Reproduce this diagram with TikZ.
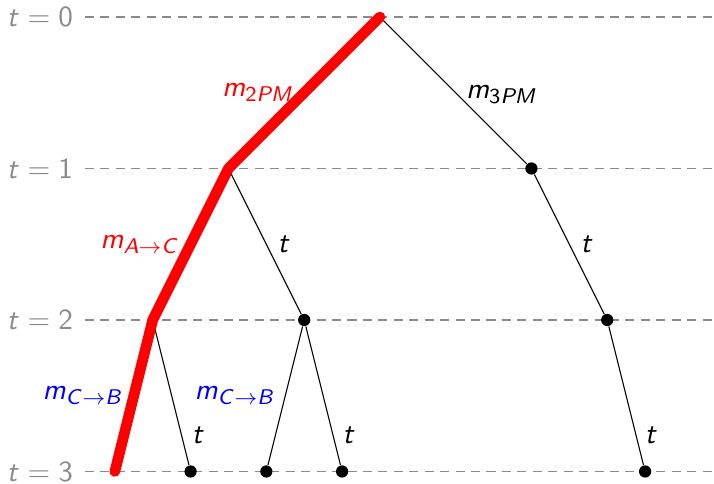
\documentclass[tikz,border=0pt]{standalone}
\usetikzlibrary{positioning}
\DeclareMathAlphabet{\mathsfit}{OT1}{cmss}{m}{sl}
\DeclareMathAlphabet{\mathsfup}{OT1}{cmss}{m}{n}
\newcommand{\vt}{\mathsfit{t}}
\newcommand{\vm}{\mathsfit{m}}
\definecolor{TLGray}{HTML}{8A8A8A}
\tikzset{
  levelline/.style={draw=TLGray,dash pattern=on 3.4pt off 2.4pt,line width=0.55pt},
  levellabel/.style={text=TLGray,inner sep=0pt,font=\fontsize{11}{13}\selectfont},
  vertex/.style={circle,fill=black,inner sep=0pt,minimum size=4.6pt},
  branch/.style={black,line width=0.4pt},
  chosen/.style={red,line width=4pt,line cap=round,line join=round},
  lbl/.style={inner sep=0pt,font=\fontsize{11}{13}\selectfont},
  lblred/.style={lbl,text=red},
  lblblue/.style={lbl,text=blue},
}
\begin{document}
\begin{tikzpicture}[x=2cm,y=-2cm]
  \useasboundingbox (-2.508,-0.112) rectangle (2.205,3.079);
  % time levels
  \foreach \t in {0,...,3}{
    \node[levellabel] (lev\t) at (-2.244,\t) {$\vt=\mathsfup{\t}$};
    \draw[levelline] (-1.947,\t) -- (2.205,\t);
  }

  % tree
  \coordinate (root) at (0,0);
  \coordinate (a1) at (-1,1);
  \node[vertex] (b1) at (1,1) {};
  \coordinate (a2) at (-1.5,2);
  \node[vertex] (b2) at (-0.5,2) {};
  \node[vertex] (c2) at (1.5,2) {};
  \coordinate (a3) at (-1.75,3);
  \node[vertex] (b3) at (-1.25,3) {};
  \node[vertex] (c3) at (-0.75,3) {};
  \node[vertex] (d3) at (-0.25,3) {};
  \node[vertex] (e3) at (1.75,3) {};

  \draw[branch] (root) -- (b1) -- (c2) -- (e3);
  \draw[branch] (a1) -- (b2) -- (c3);
  \draw[branch] (b2) -- (d3);
  \draw[branch] (a2) -- (b3);
  \draw[chosen] (root) -- (a1) -- (a2) -- (a3);

  % edge labels
  \node[lblred] (l2pm) at (-0.805,0.5) {$\vm_{\mathsfup{2}\mathsfit{PM}}$};
  \node[lbl] (l3pm) at (0.805,0.51) {$\vm_{\mathsfup{3}\mathsfit{PM}}$};
  \node[lblred] (lac) at (-1.584,1.5) {$\vm_{\mathsfit{A}\to\mathsfit{C}}$};
  \node[lbl] (ta) at (-0.634,1.5) {$\vt$};
  \node[lbl] (tb) at (1.366,1.5) {$\vt$};
  \node[lblblue] (lcb1) at (-1.96,2.5) {$\vm_{\mathsfit{C}\to\mathsfit{B}}$};
  \node[lblblue] (lcb2) at (-0.957,2.5) {$\vm_{\mathsfit{C}\to\mathsfit{B}}$};
  \node[lbl] (tc) at (-1.2,2.76) {$\vt$};
  \node[lbl] (td) at (-0.205,2.76) {$\vt$};
  \node[lbl] (te) at (1.79,2.76) {$\vt$};
\end{tikzpicture}
\end{document}
